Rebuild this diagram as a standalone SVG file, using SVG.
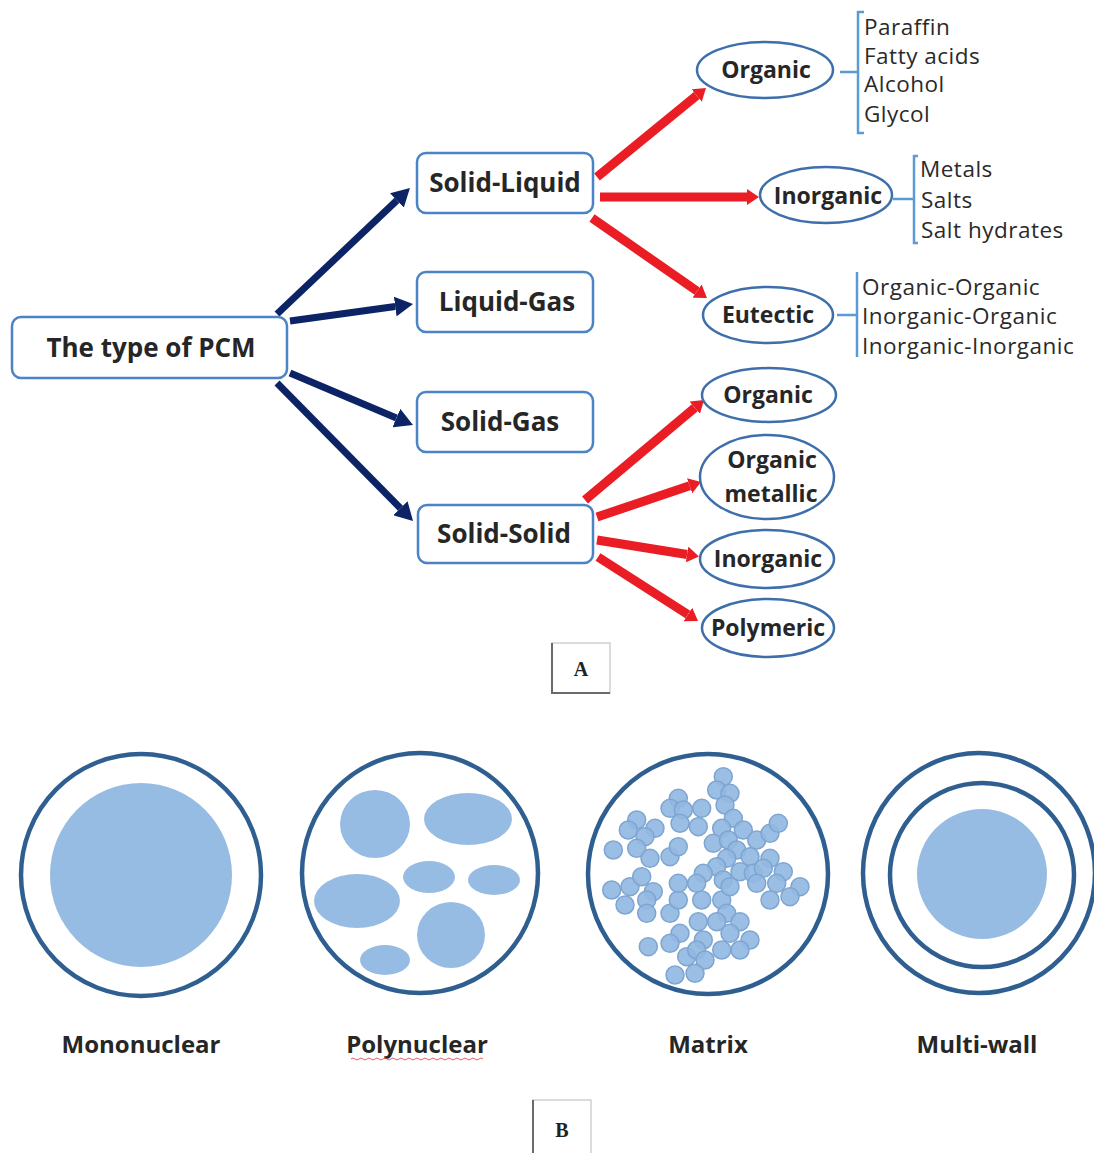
<svg xmlns="http://www.w3.org/2000/svg" width="1094" height="1153" viewBox="0 0 1094 1153">
<style>
.box{fill:#fff;stroke:#4a84c4;stroke-width:2.5}
.ell{fill:#fff;stroke:#3e6fab;stroke-width:2.5}
.lb{font-family:"Open Sans","Liberation Sans",sans-serif;font-weight:bold;fill:#262626;text-anchor:middle}
.bx{font-size:26px}
.el{font-size:23px}
.li{font-family:"Open Sans","Liberation Sans",sans-serif;fill:#2a2a2a;font-size:22.5px;letter-spacing:0.5px}
.brk{fill:none;stroke:#5b9bd5;stroke-width:2.5}
.nav{stroke:#0c2466;stroke-width:7;fill:none}
.red{stroke:#ea1c24;stroke-width:9;fill:none}
.shell{fill:none;stroke:#2f5f90;stroke-width:4.5}
.core{fill:#97bce4}
.dot{fill:#93b9e2;stroke:#7ea5d1;stroke-width:1.5;fill-opacity:0.92}
.cap{font-family:"Liberation Serif",serif;font-weight:bold;font-size:20px;fill:#222;text-anchor:middle}
</style>
<defs>
<marker id="mn" viewBox="0 0 18 20" refX="0" refY="10" markerWidth="18" markerHeight="20" markerUnits="userSpaceOnUse" orient="auto"><path d="M0,0 L18,10 L0,20 z" fill="#0c2466"/></marker>
<marker id="mr" viewBox="0 0 12 16" refX="0" refY="8" markerWidth="12" markerHeight="16" markerUnits="userSpaceOnUse" orient="auto"><path d="M0,0 L12,8 L0,16 z" fill="#ea1c24"/></marker>
</defs>
<rect width="1094" height="1153" fill="#fff"/>

<g id="connectors">
<line class="nav" x1="277" y1="314" x2="396.9" y2="200.4" marker-end="url(#mn)"/>
<line class="nav" x1="290" y1="321" x2="395.2" y2="306.5" marker-end="url(#mn)"/>
<line class="nav" x1="290" y1="373" x2="396.4" y2="418" marker-end="url(#mn)"/>
<line class="nav" x1="277" y1="383" x2="400.4" y2="508.2" marker-end="url(#mn)"/>
<line class="red" x1="597" y1="177" x2="696.7" y2="95.6" marker-end="url(#mr)"/>
<line class="red" x1="600" y1="197" x2="747" y2="197" marker-end="url(#mr)"/>
<line class="red" x1="592" y1="218" x2="697.1" y2="291.1" marker-end="url(#mr)"/>
<line class="red" x1="585" y1="500" x2="694.8" y2="407.7" marker-end="url(#mr)"/>
<line class="red" x1="597" y1="517" x2="689.6" y2="485.8" marker-end="url(#mr)"/>
<line class="red" x1="597" y1="540" x2="687.1" y2="554.5" marker-end="url(#mr)"/>
<line class="red" x1="598" y1="557" x2="687.9" y2="614.5" marker-end="url(#mr)"/>
</g>

<g id="pcm"><rect class="box" x="12" y="317" width="275" height="61" rx="9"/><text class="lb bx" x="151" y="357">The type of PCM</text></g>
<g id="solid-liquid"><rect class="box" x="417" y="153" width="176" height="60" rx="9"/><text class="lb bx" x="505" y="192">Solid-Liquid</text></g>
<g id="liquid-gas"><rect class="box" x="417" y="272" width="176" height="60" rx="9"/><text class="lb bx" x="507" y="311">Liquid-Gas</text></g>
<g id="solid-gas"><rect class="box" x="417" y="392" width="176" height="60" rx="9"/><text class="lb bx" x="500" y="431">Solid-Gas</text></g>
<g id="solid-solid"><rect class="box" x="418" y="505" width="175" height="58" rx="9"/><text class="lb bx" x="504" y="543">Solid-Solid</text></g>

<g id="sl-organic"><ellipse class="ell" cx="765" cy="70" rx="68" ry="28"/><text class="lb el" x="766" y="78">Organic</text></g>
<g id="sl-inorganic"><ellipse class="ell" cx="826" cy="195" rx="66" ry="28"/><text class="lb el" x="828" y="204">Inorganic</text></g>
<g id="sl-eutectic"><ellipse class="ell" cx="768" cy="315" rx="65" ry="28"/><text class="lb el" x="768" y="323">Eutectic</text></g>

<g id="organic-list">
<path class="brk" d="M840,72 H857 M864,12 H858 V133 H864"/>
<text class="li" x="864" y="35">Paraffin</text>
<text class="li" x="864" y="64">Fatty acids</text>
<text class="li" x="864" y="92">Alcohol</text>
<text class="li" x="864" y="122">Glycol</text>
</g>
<g id="inorganic-list">
<path class="brk" d="M893,199 H913 M918,156 H914 V243 H918"/>
<text class="li" x="920" y="177">Metals</text>
<text class="li" x="921" y="208">Salts</text>
<text class="li" x="921" y="238">Salt hydrates</text>
</g>
<g id="eutectic-list">
<path class="brk" d="M837,315 H856 M857,272 V357"/>
<text class="li" x="862" y="295">Organic-Organic</text>
<text class="li" x="862" y="324">Inorganic-Organic</text>
<text class="li" x="862" y="354">Inorganic-Inorganic</text>
</g>

<g id="ss-organic"><ellipse class="ell" cx="769" cy="395" rx="67" ry="27"/><text class="lb el" x="768" y="403">Organic</text></g>
<g id="ss-organic-metallic"><ellipse class="ell" cx="767" cy="477" rx="67" ry="42"/><text class="lb el" x="772" y="468">Organic</text><text class="lb el" x="771" y="502">metallic</text></g>
<g id="ss-inorganic"><ellipse class="ell" cx="767" cy="559" rx="67" ry="29"/><text class="lb el" x="768" y="567">Inorganic</text></g>
<g id="ss-polymeric"><ellipse class="ell" cx="768" cy="628" rx="66" ry="29"/><text class="lb el" x="768" y="636">Polymeric</text></g>

<g id="label-a">
<rect x="552" y="643" width="58" height="50" fill="none" stroke="#d0d0d0" stroke-width="1.5"/>
<path d="M552,643 V693 H610" fill="none" stroke="#6a6a6a" stroke-width="2"/>
<text class="cap" x="581" y="676">A</text>
</g>

<g id="mononuclear">
<ellipse class="shell" cx="141" cy="875" rx="120" ry="121"/>
<ellipse class="core" cx="141" cy="875" rx="91" ry="92"/>
<text class="lb" x="141" y="1053" font-size="24">Mononuclear</text>
</g>

<g id="polynuclear">
<ellipse class="shell" cx="420" cy="873" rx="118" ry="120"/>
<ellipse class="core" cx="375" cy="824" rx="35" ry="34"/>
<ellipse class="core" cx="468" cy="819" rx="44" ry="26"/>
<ellipse class="core" cx="429" cy="877" rx="26" ry="16"/>
<ellipse class="core" cx="494" cy="880" rx="26" ry="15"/>
<ellipse class="core" cx="357" cy="901" rx="43" ry="27"/>
<ellipse class="core" cx="451" cy="935" rx="34" ry="33"/>
<ellipse class="core" cx="385" cy="960" rx="25" ry="15"/>
<text class="lb" x="417" y="1053" font-size="24">Polynuclear</text>
<path d="M351,1059 q2,-2 4,0 t4,0 t4,0 t4,0 t4,0 t4,0 t4,0 t4,0 t4,0 t4,0 t4,0 t4,0 t4,0 t4,0 t4,0 t4,0 t4,0 t4,0 t4,0 t4,0 t4,0 t4,0 t4,0 t4,0 t4,0 t4,0 t4,0 t4,0 t4,0 t4,0 t4,0 t4,0 t4,0" fill="none" stroke="#e06060" stroke-width="1"/>
</g>

<g id="matrix">
<ellipse class="shell" cx="708" cy="874" rx="120" ry="120"/>
<g class="dot">
<circle cx="723.3" cy="776.7" r="9"/><circle cx="716.7" cy="790" r="9"/><circle cx="730" cy="793.3" r="9"/><circle cx="725" cy="805" r="9"/><circle cx="733.3" cy="818.3" r="9"/><circle cx="721.7" cy="828.3" r="9"/>
<circle cx="678.3" cy="798.3" r="9"/><circle cx="670" cy="808.3" r="9"/><circle cx="683.3" cy="810" r="9"/><circle cx="701.7" cy="808.3" r="9"/><circle cx="698.3" cy="826.7" r="9"/><circle cx="680" cy="823.3" r="9"/>
<circle cx="636.7" cy="820" r="9"/><circle cx="628.3" cy="830" r="9"/><circle cx="655" cy="828.3" r="9"/><circle cx="645" cy="836.7" r="9"/><circle cx="636.7" cy="848.3" r="9"/><circle cx="650" cy="858.3" r="9"/><circle cx="613.3" cy="850" r="9"/>
<circle cx="670" cy="856.7" r="9"/><circle cx="678.3" cy="846.7" r="9"/><circle cx="713.3" cy="843.3" r="9"/><circle cx="728.3" cy="840" r="9"/><circle cx="743.3" cy="830" r="9"/><circle cx="756.7" cy="840" r="9"/><circle cx="736.7" cy="850" r="9"/><circle cx="750" cy="856.7" r="9"/><circle cx="770" cy="833.3" r="9"/><circle cx="778.3" cy="823.3" r="9"/><circle cx="770" cy="858.3" r="9"/>
<circle cx="726.7" cy="858.3" r="9"/><circle cx="716.7" cy="866.7" r="9"/><circle cx="703.3" cy="873.3" r="9"/><circle cx="696.7" cy="883.3" r="9"/><circle cx="723.3" cy="880" r="9"/><circle cx="740" cy="871.7" r="9"/><circle cx="753.3" cy="873.3" r="9"/><circle cx="763.3" cy="868.3" r="9"/><circle cx="783.3" cy="871.7" r="9"/><circle cx="776.7" cy="883.3" r="9"/><circle cx="800" cy="886.7" r="9"/><circle cx="790" cy="896.7" r="9"/><circle cx="770" cy="900" r="9"/><circle cx="756.7" cy="883.3" r="9"/>
<circle cx="611.7" cy="890" r="9"/><circle cx="630" cy="886.7" r="9"/><circle cx="641.7" cy="876.7" r="9"/><circle cx="653.3" cy="891.7" r="9"/><circle cx="625" cy="905" r="9"/><circle cx="646.7" cy="900" r="9"/><circle cx="646.7" cy="913.3" r="9"/><circle cx="670" cy="913.3" r="9"/><circle cx="678.3" cy="900" r="9"/><circle cx="678.3" cy="883.3" r="9"/><circle cx="701.7" cy="900" r="9"/><circle cx="721.7" cy="900" r="9"/><circle cx="730" cy="886.7" r="9"/><circle cx="726.7" cy="913.3" r="9"/>
<circle cx="698.3" cy="921.7" r="9"/><circle cx="716.7" cy="921.7" r="9"/><circle cx="740" cy="921.7" r="9"/><circle cx="730" cy="933.3" r="9"/><circle cx="750" cy="940" r="9"/><circle cx="740" cy="950" r="9"/><circle cx="721.7" cy="950" r="9"/><circle cx="703.3" cy="940" r="9"/><circle cx="680" cy="933.3" r="9"/><circle cx="670" cy="943.3" r="9"/><circle cx="648.3" cy="946.7" r="9"/><circle cx="686.7" cy="956.7" r="9"/><circle cx="696.7" cy="950" r="9"/><circle cx="705" cy="960" r="9"/><circle cx="695" cy="973.3" r="9"/><circle cx="675" cy="975" r="9"/>
</g>
<text class="lb" x="708" y="1053" font-size="24">Matrix</text>
</g>

<g id="multi-wall">
<ellipse class="shell" cx="979" cy="873" rx="116" ry="120"/>
<ellipse class="shell" cx="982" cy="875" rx="92" ry="92"/>
<ellipse class="core" cx="982" cy="874" rx="65" ry="65"/>
<text class="lb" x="977" y="1053" font-size="24">Multi-wall</text>
</g>

<g id="label-b">
<rect x="533" y="1100" width="58" height="70" fill="none" stroke="#d0d0d0" stroke-width="1.5"/>
<path d="M533,1100 V1153" fill="none" stroke="#6a6a6a" stroke-width="2"/>
<text class="cap" x="562" y="1137">B</text>
</g>
</svg>
